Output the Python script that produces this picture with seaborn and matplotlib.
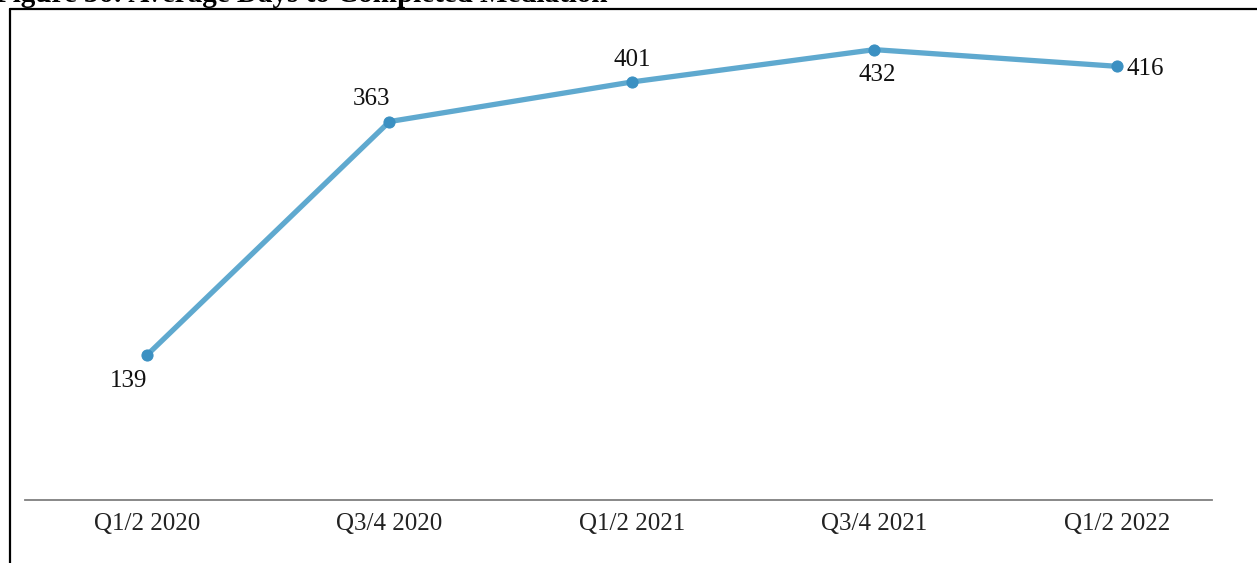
import pandas as pd
import matplotlib.pyplot as plt
import seaborn as sns
from matplotlib.lines import Line2D

# Data
periods = ["Q1/2 2020", "Q3/4 2020", "Q1/2 2021", "Q3/4 2021", "Q1/2 2022"]
avg_days = [139, 363, 401, 432, 416]

df = pd.DataFrame({"Period": periods, "Days": avg_days})

sns.set_style("white")
plt.rcParams["font.family"] = ["Liberation Serif", "DejaVu Serif"]

fig = plt.figure(figsize=(12.57, 5.63), dpi=100)
ax = fig.add_axes([0.0199, 0.1119, 0.9443, 0.8703])

line_color = "#5fa9cf"
sns.lineplot(data=df, x="Period", y="Days", ax=ax, color=line_color,
             linewidth=3.8, marker="o", markersize=8,
             markerfacecolor="#3b90c2", markeredgecolor="#3b90c2", sort=False)

# label placement (offset in points, alignment)
label_pos = [
    ((-13, -19), "center", "center"),
    ((-13, 16), "center", "center"),
    ((0, 16), "center", "center"),
    ((2, -18), "center", "center"),
    ((7, -2), "left", "center"),
]
for i, (v, (off, ha, va)) in enumerate(zip(avg_days, label_pos)):
    ax.annotate(str(v), (i, v), xytext=off, textcoords="offset points",
                ha=ha, va=va, fontsize=18, color="#111111")

ax.set_xlim(-0.503, 4.392)
ax.set_ylim(0, 470)
ax.set_xlabel("")
ax.set_ylabel("")
ax.set_yticks([])
ax.tick_params(axis="x", length=0, pad=9, labelsize=18, labelcolor="#222222")
for s in ["top", "right", "left"]:
    ax.spines[s].set_visible(False)
ax.spines["bottom"].set_color("#7f7f7f")
ax.spines["bottom"].set_linewidth(1.3)

# outer frame (left and top edges)
x0 = 10 / 1257
y0 = 1 - 9 / 563
fig.add_artist(Line2D([x0, 1.0], [y0, y0], transform=fig.transFigure,
                      color="black", linewidth=1.6))
fig.add_artist(Line2D([x0, x0], [0, y0], transform=fig.transFigure,
                      color="black", linewidth=1.6))

# title, mostly cut off by the top edge as in the original
fig.text(-0.004, 1 - 2 / 563, "Figure 36: Average Days to Completed Mediation",
         fontsize=21, fontweight="bold", ha="left", va="baseline", color="black")

fig.savefig("out.png", dpi=100)
